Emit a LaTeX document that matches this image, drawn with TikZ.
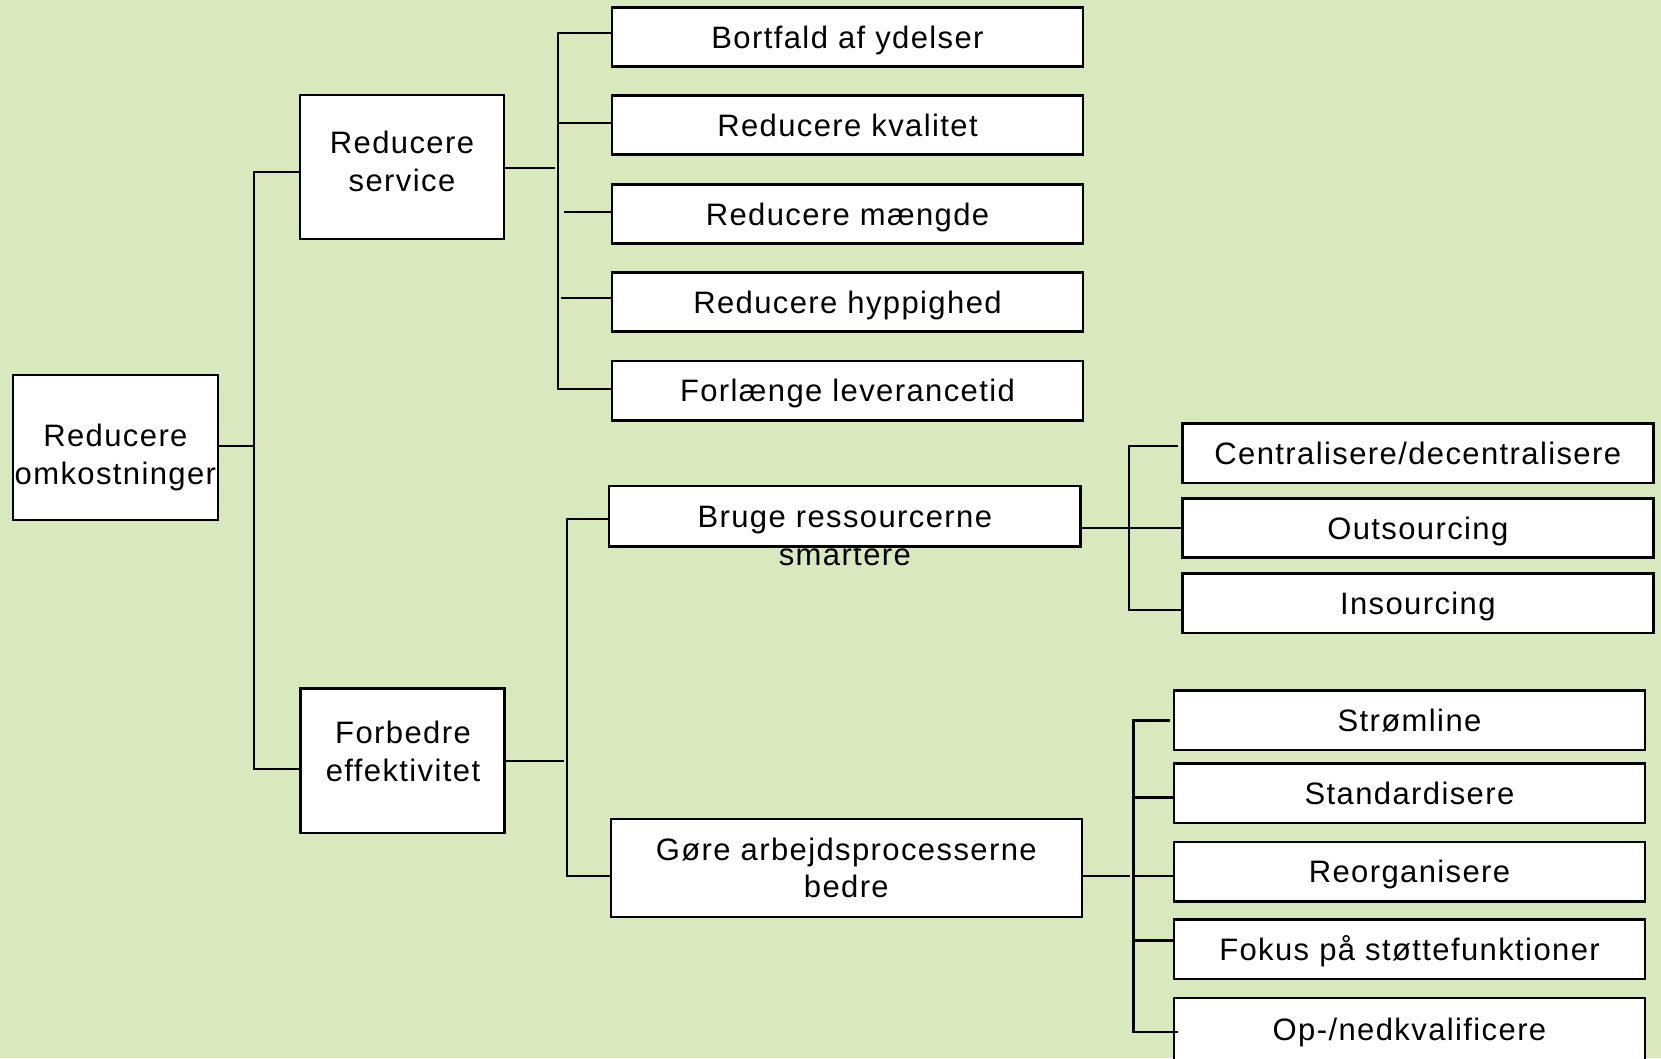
\documentclass[tikz,border=0pt]{standalone}
\usepackage{fontspec}
\setmainfont{Liberation Sans}[LetterSpace=4.5]
\newcommand\diafont{\fontsize{31}{37.5}\selectfont}
\definecolor{bg}{RGB}{217,233,190}
\begin{document}
\begin{tikzpicture}[x=1pt,y=-1pt,
  conn/.style={draw=black, line width=2.5pt},
  box/.style={draw=black, line width=2.6pt, fill=white, inner sep=0pt},
  leaf/.style={box, minimum width=471pt, minimum height=59.5pt, font=\diafont,
    text height=22.2pt, text depth=0pt},
  tallleaf/.style={box, minimum width=471pt, align=center, font=\diafont},
  txt/.style={inner sep=0pt, align=center, font=\diafont}]

% canvas and page size
\fill[bg] (0,0) rectangle (1661,1058);
\useasboundingbox (0,0) rectangle (1661,1058);

% vertical buses
\coordinate (bus1) at (254,0);
\coordinate (bus2) at (558,0);
\coordinate (bus3) at (567,0);
\coordinate (bus4) at (1129,0);
\coordinate (bus5) at (1133.5,0);

% top level and its two branches
\node[box, minimum width=205pt, minimum height=145pt] (root) at (115.4,447.5) {};
\node[txt] (root-t) at (115.4,457.5) {Reducere\\omkostninger};
\node[box, minimum width=204pt, minimum height=144pt] (service) at (402,167) {};
\node[txt] (service-t) at (402,161.3) {Reducere\\service};
\node[box, minimum width=204pt, minimum height=144.5pt] (forbedre) at (402.2,760.8) {};
\node[txt] (forbedre-t) at (403,751.3) {Forbedre\\effektivitet};

% ways to reduce service
\node[leaf] (s1) at (847.5,37) {Bortfald af ydelser};
\node[leaf] (s2) at (847.5,125) {Reducere kvalitet};
\node[leaf] (s3) at (847.5,214) {Reducere mængde};
\node[leaf] (s4) at (847.5,302) {Reducere hyppighed};
\node[leaf] (s5) at (847.5,390.8) {Forlænge leverancetid};

% ways to improve efficiency
\node[box, minimum width=471.5pt, minimum height=60.6pt] (bruge) at (844.8,516.3) {};
\node[txt] (bruge-t) at (844.8,536) {Bruge ressourcerne\\smartere};
\node[tallleaf, minimum height=98pt] (gore) at (846.3,868) {Gøre arbejdsprocesserne\\bedre};

\node[leaf] (c1) at (1417.8,453.3) {Centralisere/decentralisere};
\node[leaf] (c2) at (1417.8,528) {Outsourcing};
\node[leaf] (c3) at (1417.8,603.3) {Insourcing};

\node[leaf] (g1) at (1409.5,720.4) {Strømline};
\node[leaf] (g2) at (1409.5,793.4) {Standardisere};
\node[leaf] (g3) at (1409.5,871.8) {Reorganisere};
\node[leaf] (g4) at (1409.5,949.3) {Fokus på støttefunktioner};
\node[leaf, minimum height=62pt] (g5) at (1409.5,1029) {Op-/nedkvalificere};

% connectors, level 1
\draw[conn] ([yshift=1.5pt]root.east) -- ([yshift=1.5pt]root.east -| bus1);
\draw[conn] ([yshift=-5pt]service.west) -| ([yshift=-8pt]forbedre.west -| bus1) -- ([yshift=-8pt]forbedre.west);

% connectors, service branch
\draw[conn] ([yshift=-1pt]service.east) -- ++(50,0);
\draw[conn] ([yshift=4pt]s1.west) -| ([yshift=2pt]s5.west -| bus2) -- ([yshift=2pt]s5.west);
\draw[conn] ([yshift=2pt]s2.west) -- ([yshift=2pt]s2.west -| bus2);
\draw[conn] ([yshift=2pt]s3.west) -- ++(-47,0);
\draw[conn] ([yshift=4pt]s4.west) -- ++(-50,0);

% connectors, efficiency branch
\draw[conn] (forbedre.east) -- ++(58.5,0);
\draw[conn] ([yshift=-2.7pt]bruge.west) -| ([yshift=-8pt]gore.west -| bus3) -- ([yshift=-8pt]gore.west);

\draw[conn] ([yshift=-11.7pt]bruge.east) -- (c2.west);
\draw[conn] ([shift={(-3pt,7.3pt)}]c1.west) -| ([yshift=-6.7pt]c3.west -| bus4) -- ([yshift=-6.7pt]c3.west);

\draw[conn] ([yshift=-8pt]gore.east) -- ++(46.5,0);
\coordinate (g5in) at ([shift={(5pt,-3pt)}]g5.west);
\draw[conn] ([xshift=-3pt]g1.west) -| (g5in -| bus5) -- (g5in);
\draw[conn] ([yshift=-4.2pt]g2.west) -- ([yshift=-4.2pt]g2.west -| bus5);
\draw[conn] ([yshift=-4.2pt]g3.west) -- ([yshift=-4.2pt]g3.west -| bus5);
\draw[conn] ([yshift=8.7pt]g4.west) -- ([yshift=8.7pt]g4.west -| bus5);

\end{tikzpicture}
\end{document}
